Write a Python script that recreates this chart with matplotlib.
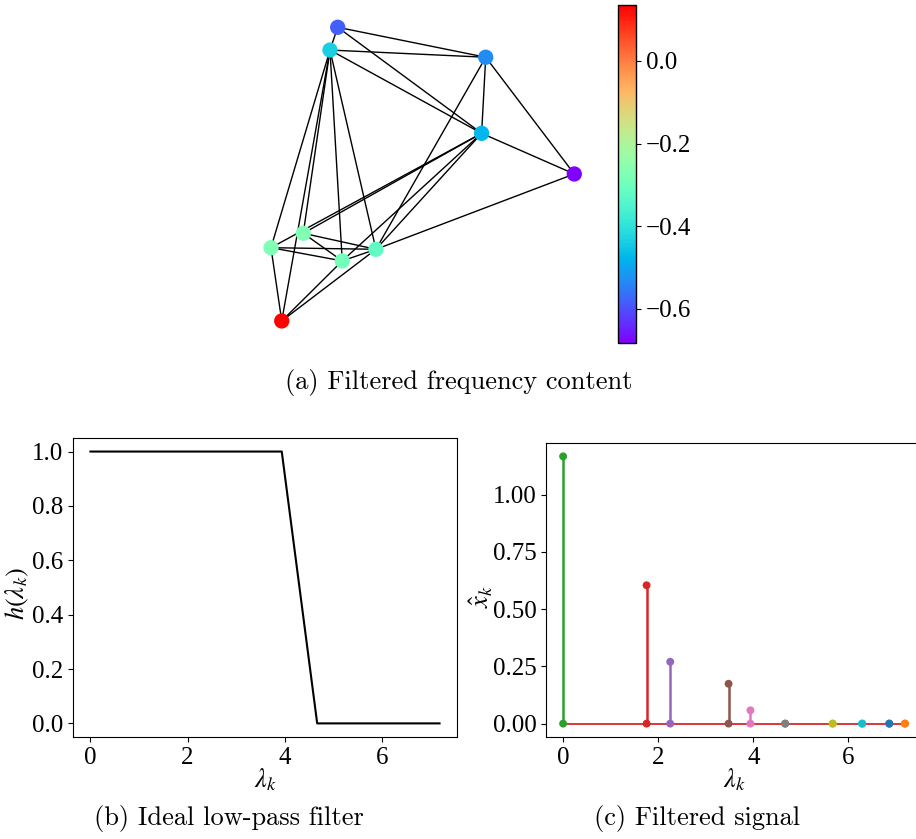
"""Graph signal low-pass filtering figure: filtered signal on the graph,
ideal low-pass filter response and the filtered spectrum."""

import numpy as np
import matplotlib.pyplot as plt

# --- graph (layout positions, normalised like a spring layout) ---
node_x = [-0.560, -0.611, 0.416, 0.389, 1.000, -0.787, -1.000, -0.530, -0.308, -0.929]
node_y = [1.000, 0.845, 0.796, 0.278, 0.001, -0.403, -0.501, -0.591, -0.512, -1.000]
node_signal = [-0.581, -0.434, -0.530, -0.474, -0.683, -0.274, -0.272, -0.290, -0.325, 0.135]
edges = [(0, 1), (0, 2), (0, 3), (1, 2), (1, 3), (2, 3), (2, 4), (3, 4), (4, 8), (2, 8),
         (1, 6), (1, 9), (1, 5), (1, 7), (1, 8),
         (3, 6), (3, 5), (3, 7), (3, 8),
         (6, 8), (6, 7), (5, 7), (5, 8), (7, 8), (6, 9), (7, 9), (8, 9)]

# --- spectrum ---
eigenvalues = [0.0, 1.756, 2.253, 3.48, 3.94, 4.67, 5.67, 6.29, 6.86, 7.19]
filter_response = [1, 1, 1, 1, 1, 0, 0, 0, 0, 0]
filtered_coeffs = [1.167, 0.604, 0.270, 0.174, 0.058, 0.0, 0.0, 0.0, 0.0, 0.0]
stem_colors = ['C2', 'C3', 'C4', 'C5', 'C6', 'C7', 'C8', 'C9', 'C0', 'C1']

plt.rcParams['font.family'] = ['Liberation Serif', 'DejaVu Serif']
plt.rcParams['mathtext.fontset'] = 'stix'
plt.rcParams['font.size'] = 18
plt.rcParams['axes.labelsize'] = 19

fig = plt.figure(figsize=(9.16, 8.39), dpi=100)

# --- (a) graph ---
ax_g = fig.add_axes([0.2729, 0.5948, 0.3821, 0.3933])
for u, v in edges:
    ax_g.plot([node_x[u], node_x[v]], [node_y[u], node_y[v]], color='black', lw=1.0, zorder=1)
sc = ax_g.scatter(node_x, node_y, c=node_signal, cmap='rainbow', s=100, zorder=2)
ax_g.set_xlim(-1.1385, 1.1695)
ax_g.set_ylim(-1.1294, 1.1178)
ax_g.axis('off')

cax = fig.add_axes([0.6747, 0.5908, 0.01965, 0.4032])
cbar = fig.colorbar(sc, cax=cax)
cbar.set_ticks([-0.6, -0.4, -0.2, 0.0])
cbar.outline.set_linewidth(1.0)

# --- (b) ideal low-pass filter ---
ax_b = fig.add_axes([0.0797, 0.1216, 0.4192, 0.3564])
ax_b.plot(eigenvalues, filter_response, color='black', lw=1.5)
ax_b.set_xlabel(r'$\lambda_k$', labelpad=-2)
ax_b.set_ylabel(r'$h(\lambda_k)$')
ax_b.yaxis.set_label_coords(-0.11, 0.48)
ax_b.set_xticks([0, 2, 4, 6])
ax_b.set_yticks([0.0, 0.2, 0.4, 0.6, 0.8, 1.0])

# --- (c) filtered signal ---
ax_c = fig.add_axes([0.5961, 0.1216, 0.4105, 0.3504])
markerline, stemlines, baseline = ax_c.stem(eigenvalues, filtered_coeffs, basefmt='C3-')
stemlines.set_colors(stem_colors)
stemlines.set_linewidth(1.8)
markerline.set_visible(False)
baseline.set_linewidth(1.3)
baseline.set_zorder(2.5)
ax_c.scatter(eigenvalues, filtered_coeffs, color=stem_colors, s=22, zorder=3)
ax_c.scatter(eigenvalues, np.zeros(len(eigenvalues)), color=stem_colors, s=22, zorder=3)
ax_c.set_xlabel(r'$\lambda_k$', labelpad=-2)
ax_c.set_ylabel(r'$\hat{x}_k$')
ax_c.yaxis.set_label_coords(-0.136, 0.48)
ax_c.set_xticks([0, 2, 4, 6])
ax_c.set_yticks([0.0, 0.25, 0.5, 0.75, 1.0])
ax_c.set_yticklabels(['0.00', '0.25', '0.50', '0.75', '1.00'])

# --- captions ---
cap = dict(family='cmr10', fontsize=19, ha='center', va='center')
fig.text(0.501, 1 - 382 / 839, '(a) Filtered frequency content', **cap)
fig.text(0.25, 1 - 818 / 839, '(b) Ideal low-pass filter', **cap)
fig.text(0.7615, 1 - 818 / 839, '(c) Filtered signal', **cap)

fig.savefig('out.png', dpi=100)
